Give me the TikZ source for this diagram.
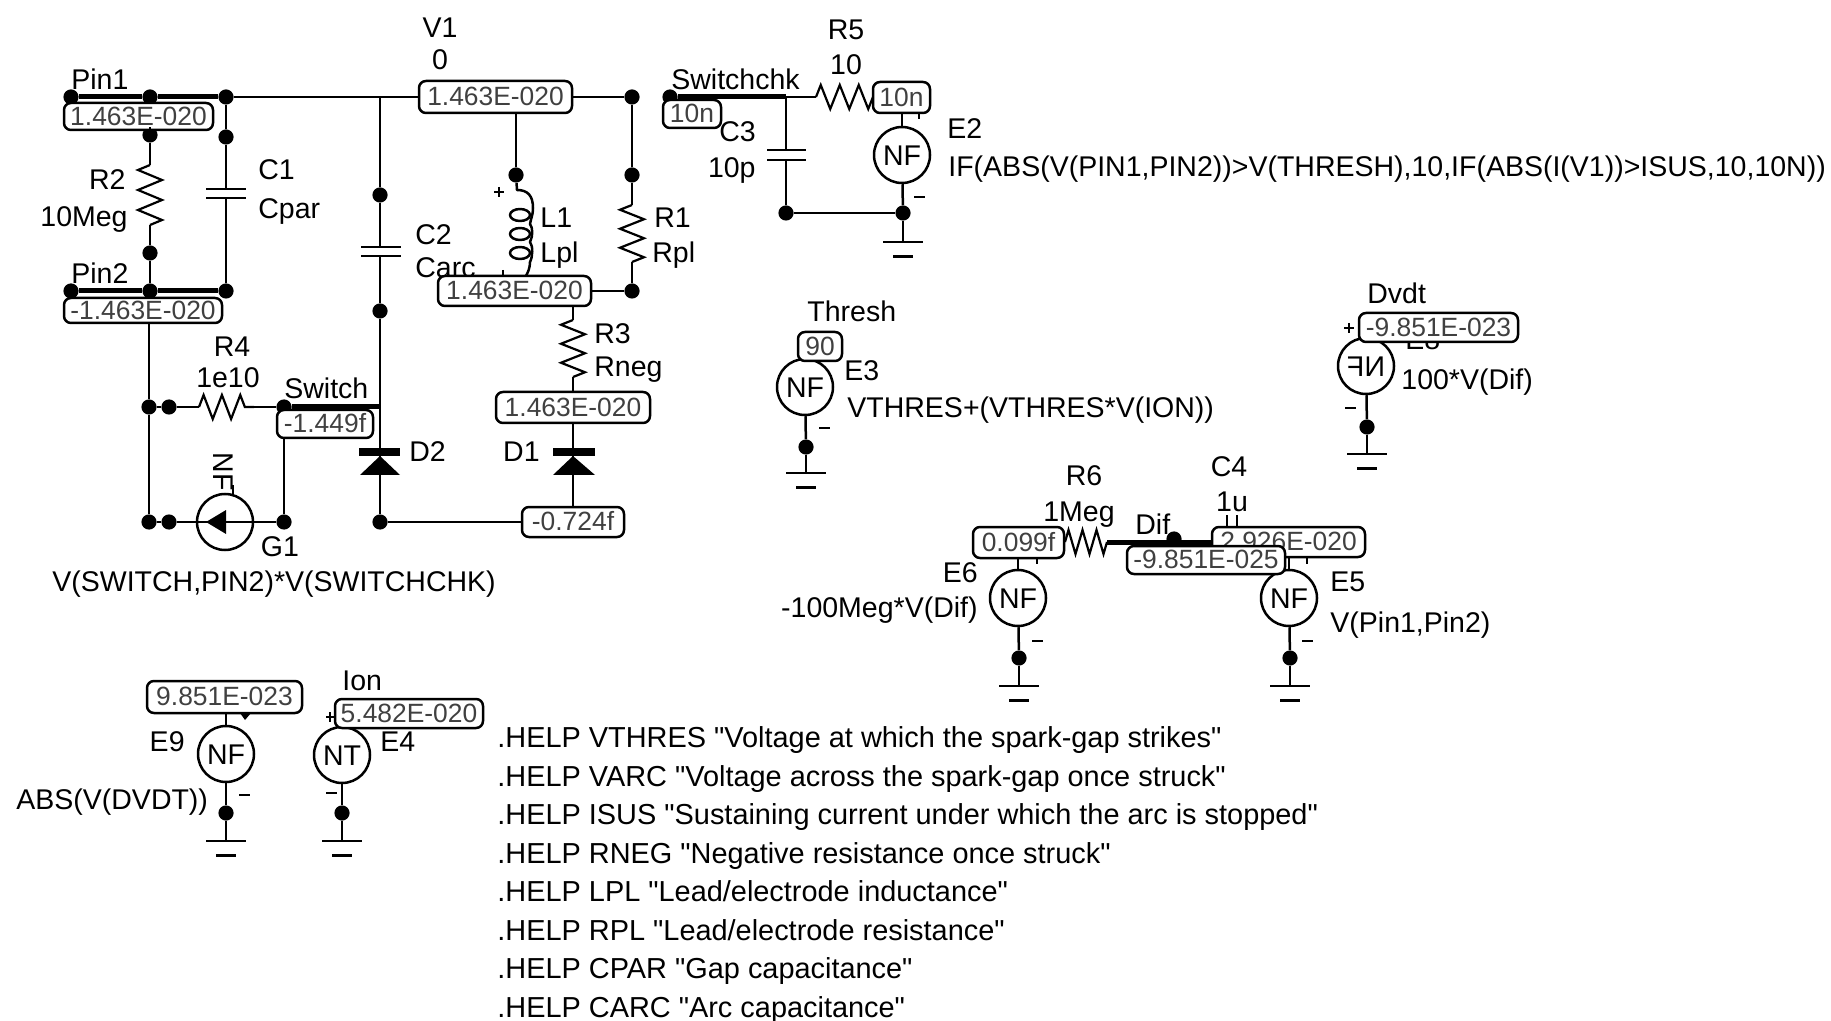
\documentclass[tikz,border=0pt]{standalone}
\usepackage{fontspec}
\setmainfont{Liberation Sans}[Ligatures=NoCommon,Mapping=]
\usetikzlibrary{decorations.pathmorphing}
\tikzset{
  wire/.style={line width=1.25pt,line join=round},
  bus/.style={line width=2.5pt},
  dot/.style={circle,fill=black,draw=none,minimum size=7.6pt,inner sep=0pt},
  lbl/.style={inner sep=0pt,text height=10.2pt,text depth=0pt,yshift=0.2pt,font=\fontsize{14.25}{17}\selectfont},
  helpline/.style={lbl,anchor=west,font=\fontsize{14.45}{17}\selectfont},
  pilltext/.style={font=\fontsize{13.2}{16}\selectfont,text=black!75},
  pillbox/.style={draw=black,line width=1.25pt,fill=white,rounded corners=3.5pt,inner sep=0pt,text height=9.4pt,text depth=0.8pt,pilltext},
  src/.style={draw=black,line width=1.25pt,fill=white,circle,minimum size=28pt,inner sep=0pt,text height=10.2pt,text depth=0pt,font=\fontsize{14.25}{17}\selectfont},
  plate/.style={line width=1.4pt},
  zigr/.style={decoration={zigzag,segment length=#1,amplitude=6pt},decorate,line width=1.1pt,line join=miter},
  zigv/.style={decoration={zigzag,segment length=#1,amplitude=6pt,mirror},decorate,line width=1.1pt,line join=miter},
  diodetri/.style={fill=black,draw=none},
  gbar/.style={line width=1.4pt},
  sign/.style={line width=1.3pt},
}
\newcommand{\pill}[6]{%
  \pgfmathsetmacro\pw{(#4-#2)*0.5}\pgfmathsetmacro\ph{(#5-#3)*0.5}%
  \node[pillbox,minimum width=\pw pt,minimum height=\ph pt] (#1) at ({(#2+#4)/2},{(#3+#5)/2}) {#6};}
\newcommand{\gnd}[3]{%
  \coordinate (#1) at (#2,#3);
  \draw[gbar] ([xshift=-10pt]#1) -- ([xshift=10pt]#1);
  \draw[gbar] ([xshift=-5pt,yshift=-7.3pt]#1) -- ([xshift=5pt,yshift=-7.3pt]#1);}
\newcommand{\lr}[3]{\node[lbl,anchor=west] at (#1,#2) {#3};}
\newcommand{\rr}[3]{\node[lbl,anchor=east] at (#1,#2) {#3};}
\newcommand{\cc}[3]{\node[lbl] at (#1,#2) {#3};}
\newcommand{\hp}[2]{\node[helpline] at (497,#1) {#2};}
\begin{document}
\begin{tikzpicture}[x=0.5pt,y=-0.5pt]
\useasboundingbox (0,0) rectangle (1831,1021);

% ---- labels lying below pills / wires
\cc{440}{28}{V1}
\cc{440}{60}{0}
\lr{71}{80}{Pin1}
\lr{71}{274}{Pin2}
\rr{126}{180}{R2}
\rr{128}{217}{10Meg}
\lr{258}{170}{C1}
\lr{258}{209}{Cpar}
\lr{415}{235}{C2}
\lr{415}{268}{Carc}
\lr{540}{218}{L1}
\lr{540}{253}{Lpl}
\lr{654}{218}{R1}
\lr{652}{253}{Rpl}
\cc{232}{347}{R4}
\cc{228}{378}{1e10}
\lr{284}{389}{Switch}
\lr{409}{452}{D2}
\rr{540}{452}{D1}
\cc{280}{547}{G1}
\lr{52}{582}{V(SWITCH,PIN2)*V(SWITCHCHK)}
\lr{594}{334}{R3}
\lr{594}{367}{Rneg}
\lr{671}{80}{Switchchk}
\lr{719}{132}{C3}
\rr{756}{168}{10p}
\cc{846}{30}{R5}
\cc{846}{65}{10}
\lr{947}{129}{E2}
\lr{948}{167}{IF(ABS(V(PIN1,PIN2))>V(THRESH),10,IF(ABS(I(V1))>ISUS,10,10N))}
\lr{807}{312}{Thresh}
\lr{844}{371}{E3}
\lr{847}{408}{VTHRES+(VTHRES*V(ION))}
\lr{1367}{294}{Dvdt}
\lr{1405}{340}{E8}
\lr{1401}{380}{100*V(Dif)}
\cc{1084}{476}{R6}
\cc{1079}{512}{1Meg}
\cc{1229}{467}{C4}
\cc{1232}{502}{1u}
\lr{1135}{525}{Dif}
\rr{978}{573}{E6}
\rr{978}{608}{-100Meg*V(Dif)}
\lr{1330}{582}{E5}
\lr{1330}{623}{V(Pin1,Pin2)}
\rr{185}{742}{E9}
\lr{16}{800}{ABS(V(DVDT))}
\lr{342}{681}{Ion}
\lr{380}{742}{E4}
\hp{738}{.HELP VTHRES "Voltage at which the spark-gap strikes"}
\hp{777}{.HELP VARC "Voltage across the spark-gap once struck"}
\hp{815}{.HELP ISUS "Sustaining current under which the arc is stopped"}
\hp{854}{.HELP RNEG "Negative resistance once struck"}
\hp{892}{.HELP LPL "Lead/electrode inductance"}
\hp{931}{.HELP RPL "Lead/electrode resistance"}
\hp{969}{.HELP CPAR "Gap capacitance"}
\hp{1008}{.HELP CARC "Arc capacitance"}

% ---- dots
\foreach \nn/\xx/\yy in {pa/71/97, pb/150/97, pc/226/97, pd/632/97,
  r2t/150/135, c1t/226/137, r2b/150/253, qa/71/291, qb/150/291, qc/226/291,
  c2t/380/195, c2b/380/311, lt/516/175, r1t/632/175, r1b/632/291,
  la/149/407, lb/169/407, sw/284/407, lc/149/522, ld/169/522, g1r/284/522, d2b/380/522,
  sc/670/97, c3b/786/213, e2b/903/213,
  e3g/806/447, e8g/1367/427, dif/1174/539, e6g/1019/658, e5g/1290/658,
  e9g/226/813, e4g/342/813}
  {\node[dot] (\nn) at (\xx,\yy) {};}

% ---- helper coordinates
\coordinate (c2j) at (380,97);
\coordinate (c2p) at (380,247);
\coordinate (c2q) at (380,256);
\coordinate (c2s) at (380,407);
\coordinate (d2k) at (380,452);
\coordinate (c1p) at (226,189);
\coordinate (c1q) at (226,198);
\coordinate (r2a) at (150,165);
\coordinate (r2z) at (150,225);
\coordinate (r1a) at (632,205);
\coordinate (r1z) at (632,262);
\coordinate (r3a) at (573,320);
\coordinate (r3z) at (573,377);
\coordinate (r4a) at (199,407);
\coordinate (r4z) at (254,407);
\coordinate (r5a) at (816,97);
\coordinate (r5z) at (873,97);
\coordinate (r6a) at (1065,542);
\coordinate (r6z) at (1107,542);
\coordinate (c3j) at (786,97);
\coordinate (c3p) at (786,150);
\coordinate (c3q) at (786,160);
\coordinate (d1k) at (573,452);
\coordinate (difr) at (1212,542);

% ---- wires
\draw[wire] (pb) -- (pc) -- (c2j);
\draw[bus] (pa) -- (pb) -- ([xshift=-8pt]pc);
\draw[bus] (qa) -- (qb) -- (qc);
\draw[wire] (pc) -- (c1t) -- (c1p);
\draw[wire] (c1q) -- (qc);
\draw[wire] (r2t) -- (r2a);
\draw[wire] (r2z) -- (r2b) -- (qb);
\draw[zigv=10pt] (r2a) -- (r2z);
\draw[wire] (c2j) -- (c2t) -- (c2p);
\draw[wire] (c2q) -- (c2b) -- (c2s) -- (d2k);
\draw[wire] (d2k) -- (d2b);
\draw[wire] (r4z) -- (sw);
\draw[wire] (lb) -- (r4a);
\draw[zigr=9.17pt] (r4a) -- (r4z);
\draw[bus] (sw) -- (c2s);
\draw[wire] (lb) -- (la);
\draw[wire] (sw) -- (g1r);
\draw[wire] (la) -- (lc) -- (ld);
\draw[wire] (pd) -- (r1t) -- (r1a);
\draw[wire] (r1z) -- (r1b);
\draw[zigv=9.5pt] (r1a) -- (r1z);
\draw[zigv=9.5pt] (r3a) -- (r3z);
\draw[wire] (c3j) -- (r5a);
\draw[zigr=9.5pt] (r5a) -- (r5z);
\draw[zigr=7pt] (r6a) -- (r6z);
\draw[bus] (sc) -- (c3j);
\draw[wire] (c3j) -- (c3p);
\draw[wire] (c3q) -- (c3b) -- (e2b);

% ---- inductor L1
\draw[wire] (lt) -- (517,190) .. controls (528,190) and (533,196) .. (533,208)
   .. controls (533,215) and (531,218) .. (530,224)
   .. controls (533,228) and (533,236) .. (530,242)
   .. controls (533,246) and (533,256) .. (530,262)
   .. controls (530,268) and (528,272) .. (526,276);
\foreach \yy in {215,234,253}{\draw[wire] (520,\yy) ellipse [x radius=10,y radius=6];}
\draw[sign] (494,192) -- (504,192);
\draw[sign] (499,187) -- (499,197);
\draw[sign] (503,270) -- (503,277);

% ---- capacitors
\draw[plate] (206,189) -- (246,189);
\draw[plate] (206,198) -- (246,198);
\draw[plate] (361,247) -- (401,247);
\draw[plate] (361,256) -- (401,256);
\draw[plate] (767,150) -- (806,150);
\draw[plate] (767,160) -- (806,160);
\draw[plate] (1227,515) -- (1227,528);
\draw[plate] (1237,515) -- (1237,528);

% ---- diodes
\fill[diodetri] (359,448) rectangle (400,456);
\fill[diodetri] (380,456) -- (360,475) -- (400,475) -- cycle;
\fill[diodetri] (553,448) rectangle (595,456);
\fill[diodetri] (573,456) -- (553,475) -- (595,475) -- cycle;

% ---- G1
\node[src] (g1) at (225,522) {};
\draw[wire] (ld) -- (g1r);
\fill (206,522) -- (226,510) -- (226,534) -- cycle;
\node[lbl,rotate=-90] (g1t) at (224,472) {NF};
\draw[wire] (233,485) -- (233,495);

% ---- pills (over the wires, as in the reference)
\pill{p1}{64}{103}{213}{130}{1.463E-020}
\pill{p2}{64}{298}{222}{323}{-1.463E-020}
\pill{pv}{419}{81}{572}{113}{1.463E-020}
\pill{pl}{438}{276}{591}{306}{1.463E-020}
\pill{pn}{496}{392}{650}{423}{1.463E-020}
\pill{ps}{277}{410}{373}{438}{-1.449f}
\pill{pm}{522}{507}{624}{537}{-0.724f}
\draw[wire] (pc) -- (pv.west);
\draw[wire] (pv.east) -- (pd);
\draw[wire] (pv.south -| lt) -- (lt);
\draw[wire] (pl.east) -- (r1b);
\draw[wire] (pl.south -| r3a) -- (r3a);
\draw[wire] (r3z) -- (pn.north -| r3z);
\draw[wire] (pn.south -| d1k) -- (d1k) ;
\draw[wire] (d1k) -- (pm.north -| d1k);
\draw[wire] (d2b) -- (pm.west);
\draw[wire] (p1.south -| r2t) -- (r2t);
\draw[wire] (p2.south -| la) -- (la);

% ---- Switchchk block
\pill{pc1}{663}{100}{721}{128}{10n}
\pill{pc2}{873}{82}{930}{113}{10n}
\node[src] (e2) at (902,155) {NF};
\draw[wire] (pc2.south -| e2) -- (e2);
\draw[wire] (e2) -- (e2b);
\gnd{g2}{903}{242}
\draw[wire] (e2b) -- (g2);
\draw[sign] (914,197) -- (925,197);
\draw[sign] (919,113) -- (919,119);

% ---- E3
\node[src] (e3) at (805,387) {NF};
\pill{p90}{798}{332}{842}{361}{90}
\draw[wire] (e3) -- (e3g);
\gnd{g3}{806}{473}
\draw[wire] (e3g) -- (g3);
\draw[sign] (819,428) -- (830,428);

% ---- E8
\node[src] (e8) at (1366,366) {\scalebox{-1}[1]{NF}};
\pill{pdv}{1359}{313}{1518}{342}{-9.851E-023}
\draw[wire] (e8) -- (e8g);
\gnd{g8}{1367}{454}
\draw[wire] (e8g) -- (g8);
\draw[sign] (1344,328) -- (1354,328);
\draw[sign] (1349,323) -- (1349,333);
\draw[sign] (1345,408) -- (1356,408);

% ---- E6, E5, R6, C4
\node[src] (e6) at (1018,598) {NF};
\node[src] (e5) at (1289,598) {NF};
\draw[wire] (e6) -- (e6g);
\draw[wire] (e5) -- (e5g);
\gnd{g6}{1019}{686}
\gnd{g5}{1290}{686}
\draw[wire] (e6g) -- (g6);
\draw[wire] (e5g) -- (g5);
\draw[sign] (1032,641) -- (1043,641);
\draw[sign] (1302,641) -- (1313,641);
\draw[bus] (r6z) -- (difr);
\node[dot,minimum size=6pt] at (dif) {};
\pill{p099}{973}{527}{1064}{558}{0.099f}
\pill{p292}{1212}{527}{1365}{557}{2.926E-020}
\draw[wire] (p099.south -| e6) -- (e6);
\draw[sign] (1037,558) -- (1037,564);
\draw[sign] (1307,557) -- (1307,564);
\draw[wire] (p292.south -| e5) -- (e5);
\pill{p985}{1127}{546}{1285}{574}{-9.851E-025}

% ---- E9, E4
\node[src] (e9) at (226,754) {NF};
\pill{p98}{147}{681}{302}{713}{9.851E-023}
\draw[wire] (p98.south -| e9) -- (e9);
\draw[wire] (e9) -- (e9g);
\gnd{g9}{226}{841}
\draw[wire] (e9g) -- (g9);
\draw[sign] (239,795) -- (250,795);
\fill (240,713) -- (251,713) -- (245,720) -- cycle;
\node[src] (e4) at (342,755) {NT};
\pill{p54}{335}{699}{483}{728}{5.482E-020}
\draw[wire] (e4) -- (e4g);
\gnd{g4}{342}{841}
\draw[wire] (e4g) -- (g4);
\draw[sign] (326,793) -- (337,793);
\draw[sign] (326,717) -- (335,717);
\draw[sign] (330,712) -- (330,722);
\end{tikzpicture}
\end{document}
